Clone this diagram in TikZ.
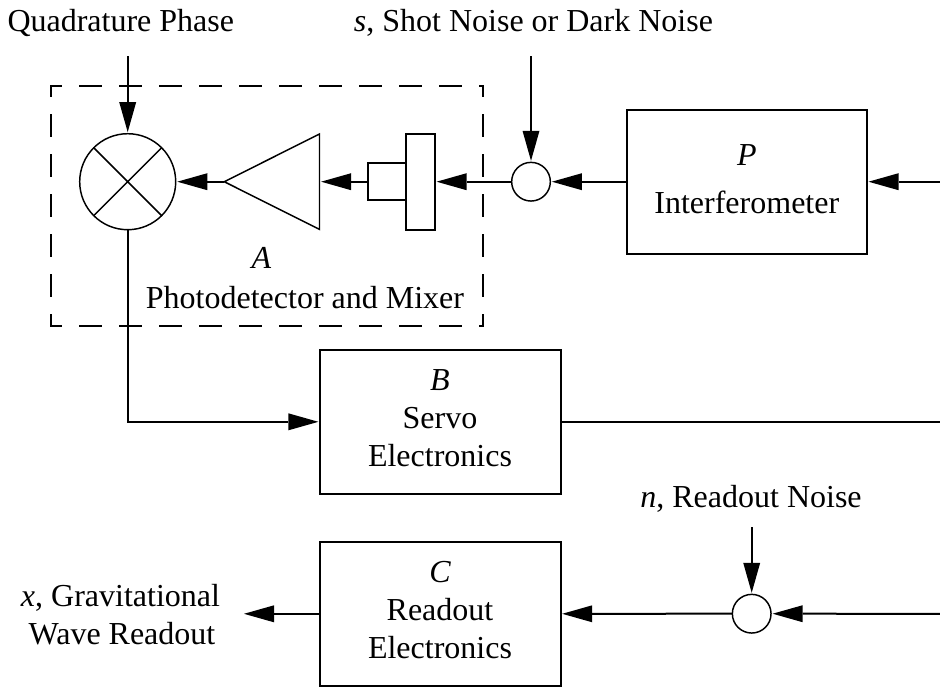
\documentclass[tikz,border=0pt]{standalone}
\usepackage{fontspec}
\setmainfont{Liberation Serif}
\usetikzlibrary{arrows.meta}
\tikzset{
  every node/.style={font=\fontsize{24}{28}\selectfont},
  line/.style={line width=1.5pt,draw=black},
  thinline/.style={line width=1.1pt,draw=black},
  dashside/.style={line,line cap=rect,dash pattern=on 15.75pt off 14.25pt,dash phase=7.9pt},
  arr/.style={line,shorten >=1.2pt,-{Triangle[length=22.5pt,width=12.75pt,line width=0pt]}},
  blockbox/.style={line,draw,rectangle,inner sep=0pt,outer sep=0pt},
  junction/.style={thinline,draw,fill=white,circle,minimum size=29pt,inner sep=0pt,outer sep=0pt},
  lbl/.style={inner sep=0pt,anchor=base}
}
\begin{document}
\begin{tikzpicture}[x=0.75pt,y=-0.75pt]
\useasboundingbox (0,0) rectangle (940,687);
% dashed box
\node[rectangle,minimum width=323.8pt,minimum height=179.8pt,inner sep=0pt,outer sep=0pt] (dbox) at (266.8,205.8) {};
\draw[dashside] (dbox.north west) -- (dbox.north east);
\draw[dashside] (dbox.north west) -- (dbox.south west);
\draw[dashside] (dbox.south west) -- (dbox.south east);
\draw[dashside] (dbox.north east) -- (dbox.south east);
% mixer
\node[thinline,draw,circle,minimum size=72pt,inner sep=0pt,outer sep=0pt] (mix) at (127.7,181.7) {};
\draw[thinline] (mix.north west) -- (mix.south east) (mix.north east) -- (mix.south west);
% amplifier
\coordinate (tipA) at (224.3,181.7);
\coordinate (ampT) at (319.5,134);
\coordinate (ampB) at (319.5,229.4);
\coordinate (ampR) at (319.5,181.7);
\draw[thinline] (tipA) -- (ampT) -- (ampB) -- cycle;
% photodetector
\node[blockbox,minimum width=21.75pt,minimum height=71.8pt] (pd) at (420.5,181.7) {};
\node[blockbox,minimum width=28.5pt,minimum height=28pt] (pdb) at (387,181.7) {};
% junctions
\node[junction] (js) at (531,181.7) {};
\node[junction] (jn) at (751.7,613.7) {};
% blocks
\node[blockbox,minimum width=180.2pt,minimum height=108pt] (P) at (746.8,181.7) {};
\node[lbl] (Pl) at (746.8,165) {\itshape P};
\node[lbl] (Pt) at (746.8,213) {Interferometer};
\node[blockbox,minimum width=180.5pt,minimum height=108pt] (B) at (440.3,421.8) {};
\node[lbl] (Bl) at (440,390.7) {\itshape B};
\node[lbl] (Bt) at (440,428.3) {Servo};
\node[lbl] (Bt2) at (440,466) {Electronics};
\node[blockbox,minimum width=180.5pt,minimum height=108pt] (C) at (440.3,613.8) {};
\node[lbl] (Cl) at (440,582.7) {\itshape C};
\node[lbl] (Ct) at (440,620.7) {Readout};
\node[lbl] (Ct2) at (440,658.3) {Electronics};
% labels
\node[lbl] (A1) at (261.5,268) {\itshape A};
\node[lbl] (A2) at (305,308) {Photodetector and Mixer};
\node[lbl] (q) at (120.8,31.7) {Quadrature Phase};
\node[lbl] (s) at (533.5,31.7) {\textit{s}, Shot Noise or Dark Noise};
\node[lbl] (n) at (751,507.3) {\textit{n}, Readout Noise};
\node[lbl] (x1) at (120.5,606.7) {\textit{x}, Gravitational};
\node[lbl] (x2) at (122,644) {Wave Readout};
% free ends
\coordinate (qs) at (127.7,56);
\coordinate (ss) at (531,56);
\coordinate (ns) at (751.7,527);
\coordinate (Pin) at (940,181.7);
\coordinate (Bout) at (940,421.8);
\coordinate (Cin) at (940,613.8);
\coordinate (xe) at (244,613.8);
% connectors
\draw[arr] (qs) -- (mix.north);
\draw[arr] (ss) -- (js.north);
\draw[arr] (ns) -- (jn.north);
\draw[arr] (Pin) -- (P.east);
\draw[arr] (P.west) -- (js.east);
\draw[arr] (js.west) -- (pd.east);
\draw[arr] (pdb.west) -- (ampR);
\draw[arr] (tipA) -- (mix.east);
\draw[arr] (mix.south) |- (B.west);
\draw[line] (B.east) -- (Bout);
\draw[arr] (Cin) -- (jn.east);
\draw[arr] (jn.west) -- (C.east);
\draw[arr,shorten >=0pt] (C.west) -- (xe);
\end{tikzpicture}
\end{document}
